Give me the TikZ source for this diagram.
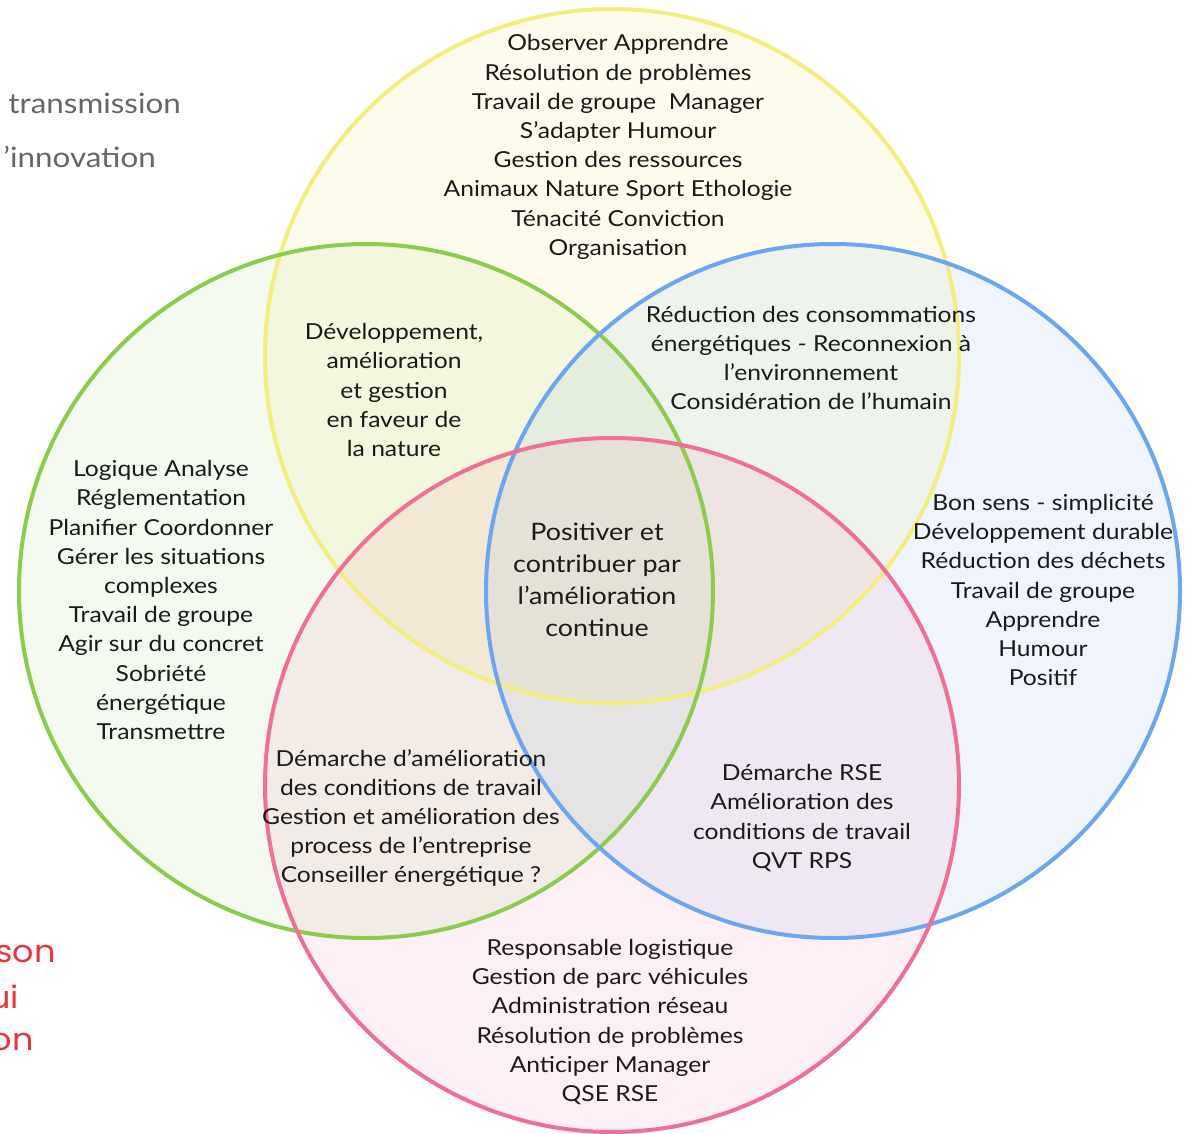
\documentclass[tikz,border=0pt]{standalone}
\usepackage{fontspec}
\setmainfont{Lato}[FakeStretch=1.12]
\newfontfamily\redfont{Poppins}[FakeStretch=1.08]
\definecolor{cyellow}{HTML}{F3EC7F}
\definecolor{cgreen}{HTML}{8DCB4F}
\definecolor{cblue}{HTML}{6CA5F0}
\definecolor{cpink}{HTML}{EF6F96}
\definecolor{ctext}{HTML}{1A1A1A}
\definecolor{cgray}{HTML}{666666}
\definecolor{cred}{HTML}{F0323F}
\tikzset{
  ring/.style={line width=4pt},
  lbl/.style={align=center, text=ctext, inner sep=0pt, font=\fontsize{22}{29.2}\selectfont},
  biglbl/.style={align=center, text=ctext, inner sep=0pt, font=\fontsize{24}{32}\selectfont},
  graylbl/.style={text=cgray, inner sep=0pt, anchor=east, font=\fontsize{28}{30}\selectfont},
  redlbl/.style={text=cred, inner sep=0pt, anchor=east, font=\redfont\fontsize{31}{30}\selectfont}
}
\begin{document}
\begin{tikzpicture}[x=1pt,y=-1pt]
\useasboundingbox (0,0) rectangle (1190,1133);
\fill[white] (0,0) rectangle (1190,1133);
% fills
\fill[cyellow, fill opacity=0.14] (612,356) circle (347);
\fill[cgreen, fill opacity=0.09] (366,591) circle (347);
\fill[cblue, fill opacity=0.1] (833,591) circle (347);
\fill[cpink, fill opacity=0.1] (612,785) circle (347);
% strokes
\draw[ring, cyellow] (612,356) circle (347);
\draw[ring, cgreen] (366,591) circle (347);
\draw[ring, cblue] (833,591) circle (347);
\draw[ring, cpink] (612,785) circle (347);
% side texts (cut off)
\node[graylbl] (g1) at (181,103) {transmission};
\node[graylbl] (g2) at (156,157) {’innovation};
\node[redlbl] (r1) at (56,954) {son};
\node[redlbl] (r2) at (19,997) {ui};
\node[redlbl] (r3) at (34,1042) {on};
% labels
\node[lbl] (ytop) at (618,147) {Observer Apprendre\\Résolution de problèmes\\Travail de groupe\ \ Manager\\S’adapter Humour\\Gestion des ressources\\Animaux Nature Sport Ethologie\\Ténacité Conviction\\Organisation};
\node[lbl] (yb) at (811,358) {Réduction des consommations\\énergétiques - Reconnexion à\\l’environnement\\Considération de l’humain};
\node[lbl] (yg) at (394,390) {Développement,\\amélioration\\et gestion\\en faveur de\\la nature};
\node[lbl] (gr) at (161,600) {Logique Analyse\\Réglementation\\Planifier Coordonner\\Gérer les situations\\complexes\\Travail de groupe\\Agir sur du concret\\Sobriété\\énergétique\\Transmettre};
\node[biglbl] (ctr) at (597,580) {Positiver et\\contribuer par\\l’amélioration\\continue};
\node[lbl] (bl) at (1043,590) {Bon sens - simplicité\\Développement durable\\Réduction des déchets\\Travail de groupe\\Apprendre\\Humour\\Positif};
\node[lbl] (gp) at (411,818) {Démarche d’amélioration\\des conditions de travail\\Gestion et amélioration des\\process de l’entreprise\\Conseiller énergétique ?};
\node[lbl] (bp) at (802,818) {Démarche RSE\\Amélioration des\\conditions de travail\\QVT RPS};
\node[lbl] (pk) at (610,1022) {Responsable logistique\\Gestion de parc véhicules\\Administration réseau\\Résolution de problèmes\\Anticiper Manager\\QSE RSE};
\end{tikzpicture}
\end{document}
